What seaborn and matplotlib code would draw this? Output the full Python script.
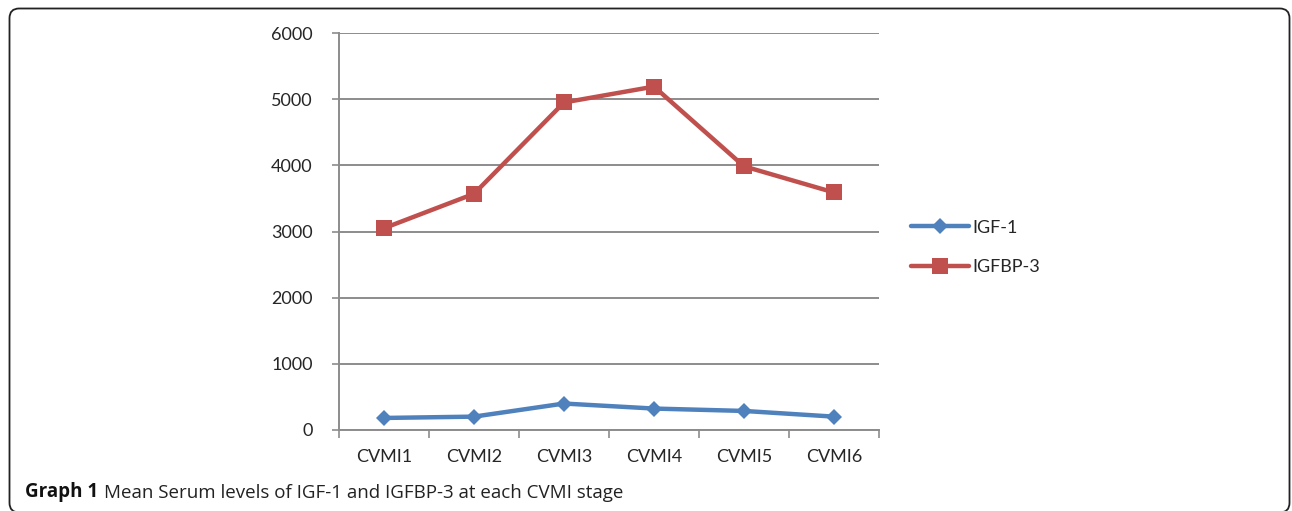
import numpy as np
import pandas as pd
import matplotlib
matplotlib.use("Agg")
import matplotlib.pyplot as plt
from matplotlib.patches import FancyBboxPatch
import seaborn as sns

# Mean serum levels per CVMI stage
stages = ["CVMI1", "CVMI2", "CVMI3", "CVMI4", "CVMI5", "CVMI6"]
igf1 = [182, 202, 400, 324, 288, 202]
igfbp3 = [3050, 3570, 4950, 5190, 3985, 3590]
series_names = ["IGF-1", "IGFBP-3"]
y_ticks = [0, 1000, 2000, 3000, 4000, 5000, 6000]

df = pd.DataFrame({
    "stage": stages * 2,
    "pos": list(range(len(stages))) * 2,
    "level": igf1 + igfbp3,
    "series": [series_names[0]] * len(stages) + [series_names[1]] * len(stages),
})

sns.set_theme(style="white")
plt.rcParams["font.family"] = ["Lato", "DejaVu Sans"]

W, H, DPI = 1292, 511, 100
fig = plt.figure(figsize=(W / DPI, H / DPI), dpi=DPI)
ax = fig.add_axes([339 / W, 1 - 430 / H, (879 - 339) / W, (430 - 33) / H])

palette = {"IGF-1": "#4F81BD", "IGFBP-3": "#C0504D"}
markers = {"IGF-1": "D", "IGFBP-3": "s"}
sizes = {"IGF-1": 8, "IGFBP-3": 11}

for name in series_names:
    sub = df[df["series"] == name]
    sns.lineplot(data=sub, x="pos", y="level", ax=ax, color=palette[name],
                 marker=markers[name], markersize=sizes[name],
                 markeredgewidth=0, linewidth=3.2, label=name)

grid_c = "#8c8c8c"
ax.set_xlim(-0.5, len(stages) - 0.5)
ax.set_ylim(y_ticks[0], y_ticks[-1])
ax.set_yticks(y_ticks)
ax.set_yticklabels([str(v) for v in y_ticks])
ax.yaxis.grid(True, color=grid_c, linewidth=1.4)
ax.set_axisbelow(True)

# category boundaries carry the tick marks, labels sit between them
ax.set_xticks(np.arange(-0.5, len(stages)), labels=[""] * (len(stages) + 1))
ax.set_xticks(np.arange(len(stages)), labels=stages, minor=True)
ax.tick_params(axis="x", which="major", length=6, width=1.2, color=grid_c,
               direction="out", bottom=True)
ax.tick_params(axis="x", which="minor", length=0, pad=14, labelsize=13)
ax.tick_params(axis="y", length=5, width=1.2, color=grid_c, direction="out",
               left=True, pad=14, labelsize=13)
ax.set_xlabel("")
ax.set_ylabel("")

for side in ["top", "right"]:
    ax.spines[side].set_visible(False)
for side in ["left", "bottom"]:
    ax.spines[side].set_color(grid_c)
    ax.spines[side].set_linewidth(1.4)

leg = ax.legend(loc="center left", bbox_to_anchor=(1.03, 0.46), frameon=False,
                fontsize=13, handlelength=3.2, handletextpad=0.2,
                labelspacing=1.3)

# caption
cap = fig.text(25 / W, 1 - 497 / H, "Graph 1", fontsize=13.5, fontweight="bold",
               family=["Open Sans", "DejaVu Sans"], va="baseline", ha="left",
               color="#111111")
ax.annotate("Mean Serum levels of IGF-1 and IGFBP-3 at each CVMI stage",
            xy=(1, 0), xycoords=cap, xytext=(4, 0), textcoords="offset points",
            va="bottom", ha="left", fontsize=13.5,
            family=["Open Sans", "DejaVu Sans"], color="#222222")

# rounded frame around the figure
x0, x1, y_top, y_bot = 9.5, 1289.5, 8.5, 512.5
frame = FancyBboxPatch((x0 / W, 1 - y_bot / H), (x1 - x0) / W, (y_bot - y_top) / H,
                       boxstyle="round,pad=0,rounding_size=0.0075",
                       transform=fig.transFigure, fill=False,
                       edgecolor="#222222", linewidth=1.3,
                       mutation_aspect=W / H, clip_on=False)
fig.patches.append(frame)

fig.savefig("out.png", dpi=DPI)
